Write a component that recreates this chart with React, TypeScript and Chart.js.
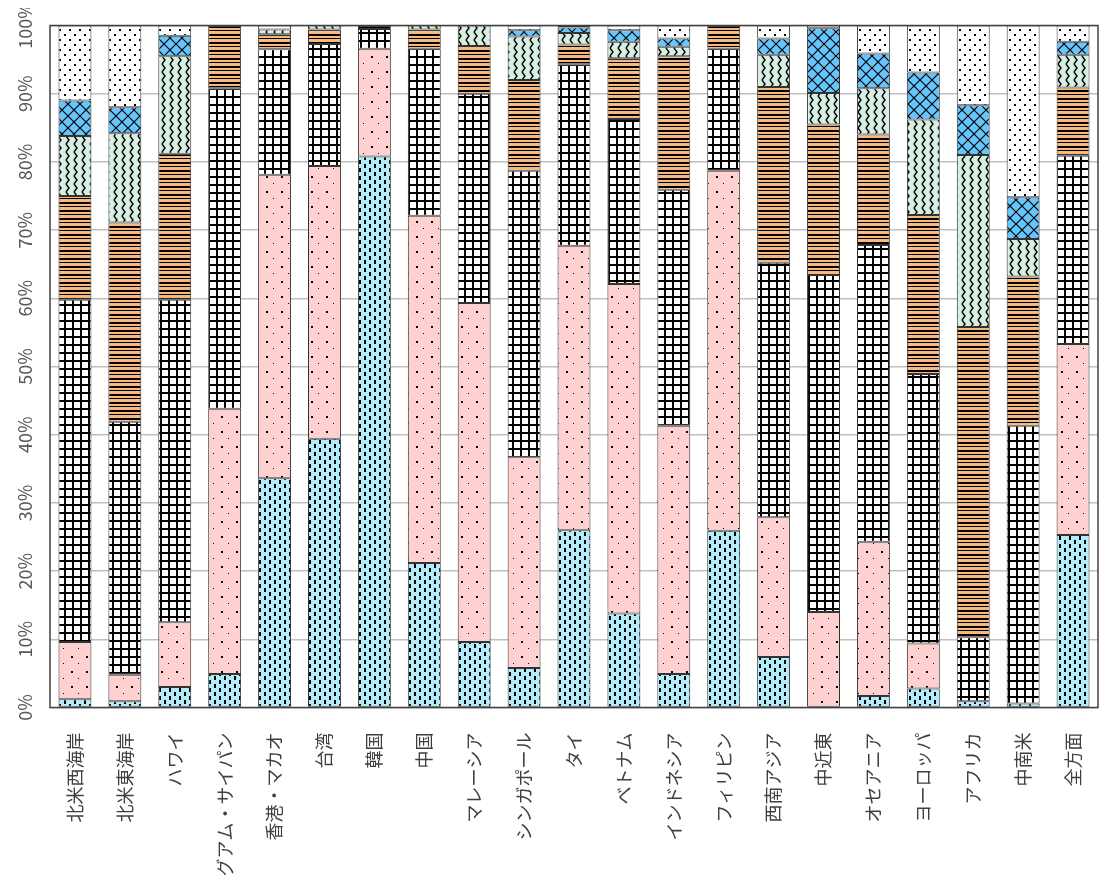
import React, { useEffect, useRef } from 'react';
import { Chart, registerables } from 'chart.js';

Chart.register(...registerables);

const categories = [
  '北米西海岸', '北米東海岸', 'ハワイ', 'グアム・サイパン', '香港・マカオ', '台湾', '韓国', '中国',
  'マレーシア', 'シンガポール', 'タイ', 'ベトナム', 'インドネシア', 'フィリピン', '西南アジア',
  '中近東', 'オセアニア', 'ヨーロッパ', 'アフリカ', '中南米', '全方面',
];

const yTicks = [0, 10, 20, 30, 40, 50, 60, 70, 80, 90, 100];

// bottom to top
const seriesA = [1.2, 0.9, 3.0, 4.9, 33.6, 39.4, 80.8, 21.2, 9.6, 5.8, 26.0, 13.8, 4.9, 25.9, 7.4, 0, 1.7, 2.8, 0.9, 0.6, 25.3];
const seriesB = [8.4, 3.9, 9.5, 38.9, 44.5, 40.0, 15.8, 50.9, 49.7, 30.9, 41.7, 48.3, 36.4, 52.8, 20.5, 14.0, 22.6, 6.6, 0, 0, 28.0];
const seriesC = [50.2, 37.1, 47.3, 47.0, 18.4, 17.9, 2.9, 24.5, 30.7, 42.0, 26.6, 24.2, 34.6, 17.9, 37.3, 49.4, 43.5, 39.5, 9.4, 40.7, 27.6];
const seriesD = [15.2, 29.2, 21.4, 9.2, 2.2, 2.1, 0.5, 2.8, 7.0, 13.3, 2.9, 8.9, 19.6, 3.4, 25.8, 22.1, 16.2, 23.3, 45.5, 21.9, 10.0];
const seriesE = [8.8, 13.1, 14.3, 0, 0.7, 0.6, 0, 0.6, 3.0, 6.4, 1.7, 2.4, 1.4, 0, 4.7, 4.6, 6.8, 14.0, 25.2, 5.5, 4.8];
const seriesF = [5.2, 3.8, 3.0, 0, 0, 0, 0, 0, 0, 0.9, 0.8, 1.7, 1.2, 0, 2.4, 9.5, 5.1, 6.9, 7.3, 6.1, 1.9];
const seriesG = [11.0, 12.0, 1.5, 0, 0.6, 0, 0, 0, 0, 0.7, 0.3, 0.7, 1.9, 0, 1.9, 0.4, 4.1, 6.9, 11.7, 25.2, 2.4];

function makePattern(w: number, h: number, draw: (ctx: CanvasRenderingContext2D) => void) {
  const c = document.createElement('canvas');
  c.width = w;
  c.height = h;
  const ctx = c.getContext('2d') as CanvasRenderingContext2D;
  draw(ctx);
  return ctx.createPattern(c, 'repeat') as CanvasPattern;
}

function buildPatterns() {
  const pA = makePattern(10, 8, (ctx) => {
    ctx.fillStyle = '#b2ecfa';
    ctx.fillRect(0, 0, 10, 8);
    ctx.fillStyle = '#000';
    ctx.fillRect(1, 0, 2, 4);
    ctx.fillRect(6, 4, 2, 4);
  });
  const pB = makePattern(15, 15, (ctx) => {
    ctx.fillStyle = '#ffd0d0';
    ctx.fillRect(0, 0, 15, 15);
    ctx.fillStyle = '#000';
    ctx.fillRect(3, 3, 2, 2);
    ctx.fillRect(10, 10, 1, 1);
  });
  const pC = makePattern(8, 8, (ctx) => {
    ctx.fillStyle = '#ffffff';
    ctx.fillRect(0, 0, 8, 8);
    ctx.fillStyle = '#000';
    ctx.fillRect(0, 0, 8, 2);
    ctx.fillRect(0, 0, 2, 8);
  });
  const pD = makePattern(4, 8, (ctx) => {
    ctx.fillStyle = '#f6b980';
    ctx.fillRect(0, 0, 4, 8);
    ctx.fillStyle = '#000';
    ctx.fillRect(0, 2, 4, 2);
    ctx.fillRect(0, 6, 4, 1);
  });
  const pE = makePattern(8, 8, (ctx) => {
    ctx.fillStyle = '#d7efe3';
    ctx.fillRect(0, 0, 8, 8);
    ctx.strokeStyle = '#000';
    ctx.lineWidth = 1.4;
    ctx.beginPath();
    ctx.moveTo(2, 0);
    ctx.lineTo(5, 4);
    ctx.lineTo(2, 8);
    ctx.stroke();
  });
  const pF = makePattern(12, 12, (ctx) => {
    ctx.fillStyle = '#66c6fc';
    ctx.fillRect(0, 0, 12, 12);
    ctx.strokeStyle = '#000';
    ctx.lineWidth = 1.2;
    ctx.beginPath();
    ctx.moveTo(0, 0);
    ctx.lineTo(12, 12);
    ctx.moveTo(12, 0);
    ctx.lineTo(0, 12);
    ctx.stroke();
  });
  const pG = makePattern(10, 10, (ctx) => {
    ctx.fillStyle = '#ffffff';
    ctx.fillRect(0, 0, 10, 10);
    ctx.fillStyle = '#000';
    ctx.fillRect(1, 1, 2, 2);
    ctx.fillRect(6, 6, 2, 2);
  });
  return [pA, pB, pC, pD, pE, pF, pG];
}

const framePlugin = {
  id: 'frame',
  afterDraw(chart: any) {
    const { ctx, chartArea: a } = chart;
    ctx.save();
    ctx.strokeStyle = '#404040';
    ctx.lineWidth = 1.5;
    ctx.strokeRect(a.left, a.top, a.right - a.left, a.bottom - a.top);
    ctx.restore();
  },
};

export default function App() {
  const ref = useRef<HTMLCanvasElement | null>(null);

  useEffect(() => {
    if (!ref.current) return;
    const patterns = buildPatterns();
    const allSeries = [seriesA, seriesB, seriesC, seriesD, seriesE, seriesF, seriesG];
    const font = { family: '"Noto Sans CJK JP", "Noto Sans", sans-serif', size: 18 };
    const chart = new Chart(ref.current, {
      type: 'bar',
      data: {
        labels: categories,
        datasets: allSeries.map((s, i) => ({
          label: 'S' + (i + 1),
          data: s.map((v) => (v === 0 ? null : v)),
          backgroundColor: patterns[i],
          borderColor: '#333333',
          borderWidth: 1,
          borderSkipped: false,
          categoryPercentage: 1,
          barPercentage: 0.66,
        })),
      },
      options: {
        animation: false,
        responsive: false,
        maintainAspectRatio: false,
        layout: { padding: { top: 17.5, right: 3, left: 0, bottom: 0 } },
        plugins: { legend: { display: false }, tooltip: { enabled: false } },
        scales: {
          x: {
            stacked: true,
            grid: { display: false },
            border: { display: false },
            ticks: {
              autoSkip: false,
              minRotation: 90,
              maxRotation: 90,
              padding: 17,
              color: '#404040',
              font,
            },
            afterFit: (s: any) => {
              s.height = 167.5;
              s.paddingLeft = 0;
              s.paddingRight = 0;
            },
          },
          y: {
            stacked: true,
            min: 0,
            max: 100,
            grid: { color: '#c0c0c0', lineWidth: 1.5, drawTicks: false },
            border: { display: false },
            afterBuildTicks: (s: any) => {
              s.ticks = yTicks.map((v) => ({ value: v }));
            },
            ticks: {
              stepSize: 10,
              minRotation: 90,
              maxRotation: 90,
              crossAlign: 'center',
              padding: 2,
              color: '#595959',
              font,
              callback: (v: any) => v + '%',
            },
            afterFit: (s: any) => {
              s.width = 42;
              s.paddingTop = 0;
              s.paddingBottom = 0;
            },
          },
        },
      } as any,
      plugins: [framePlugin],
    });
    return () => chart.destroy();
  }, []);

  return (
    <div style={{ width: 1093, height: 867 }}>
      <canvas ref={ref} width={1093} height={867} style={{ display: 'block', width: 1093, height: 867 }} />
    </div>
  );
}
